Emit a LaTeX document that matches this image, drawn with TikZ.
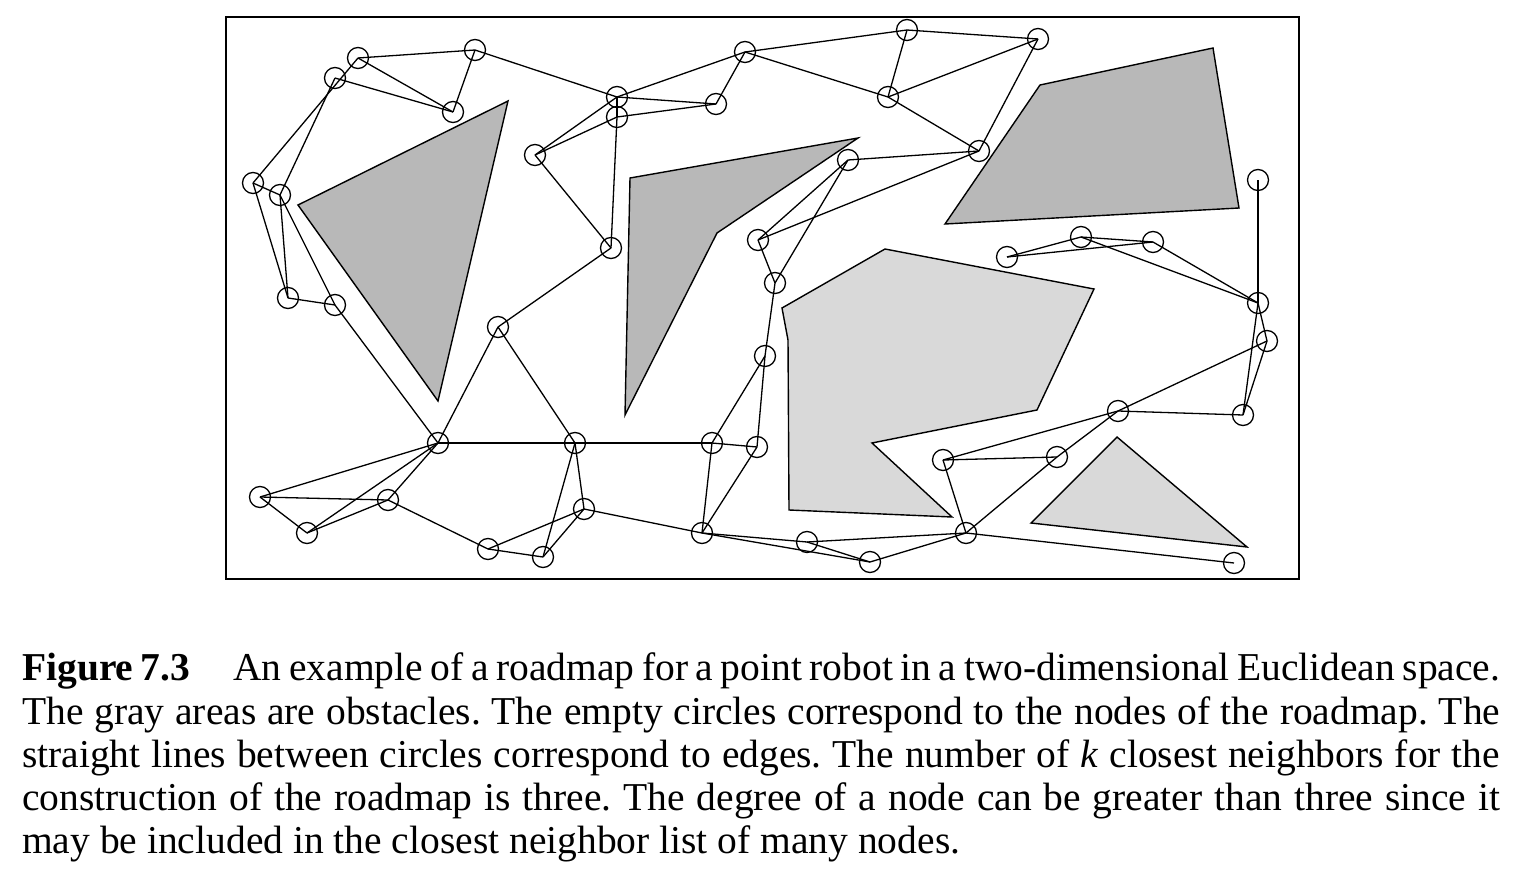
\documentclass[tikz,border=0pt]{standalone}
\usepackage{fontspec}
\setmainfont{Liberation Serif}
\begin{document}
\frenchspacing
\begin{tikzpicture}[x=1pt,y=-1pt,
  rnode/.style={circle,draw=black,line width=1.3pt,minimum size=21pt,inner sep=0pt},
  edge/.style={line width=1.3pt},
  obsdark/.style={fill=black!28,draw=black,line width=1.4pt,line join=miter},
  obslight/.style={fill=black!15,draw=black,line width=1.4pt,line join=miter},
  captext/.style={anchor=base west,inner sep=0pt,font=\fontsize{39.5}{44}\selectfont}]
\useasboundingbox (0,0) rectangle (1529,891);
% frame
\draw[line width=2pt] (225.5,17.5) rectangle (1299,578.5);
% obstacles
\draw[obsdark] (298,205) -- (508,101) -- (438,401) -- cycle;
\draw[obsdark] (630,178) -- (858,138) -- (717,233) -- (625,415) -- cycle;
\draw[obsdark] (1040,85) -- (1213,48) -- (1239,208) -- (945,224) -- cycle;
\draw[obslight] (782,308) -- (885,249) -- (1094,289) -- (1037,410) -- (872,443) -- (952,517) -- (789,510) -- (788,340) -- cycle;
\draw[obslight] (1117,437) -- (1247,547) -- (1031,523) -- cycle;
% nodes
\node[rnode] (n1) at (358,58) {};
\node[rnode] (n2) at (335,78) {};
\node[rnode] (n3) at (475,50) {};
\node[rnode] (n4) at (453,112) {};
\node[rnode] (n5) at (253,183) {};
\node[rnode] (n6) at (280,195) {};
\node[rnode] (n7) at (288,298) {};
\node[rnode] (n8) at (335,305) {};
\node[rnode] (n9) at (617,97) {};
\node[rnode] (n10) at (617,117) {};
\node[rnode] (n11) at (535,155) {};
\node[rnode] (n12) at (611,248) {};
\node[rnode] (n13) at (745,52) {};
\node[rnode] (n14) at (716,104) {};
\node[rnode] (n15) at (907,30) {};
\node[rnode] (n16) at (888,97) {};
\node[rnode] (n17) at (979,151) {};
\node[rnode] (n18) at (848,160) {};
\node[rnode] (n19) at (758,240) {};
\node[rnode] (n20) at (775,283) {};
\node[rnode] (n21) at (1038,39) {};
\node[rnode] (n22) at (1258,180) {};
\node[rnode] (n23) at (1081,237) {};
\node[rnode] (n24) at (1153,242) {};
\node[rnode] (n25) at (1007,257) {};
\node[rnode] (n26) at (1258,303) {};
\node[rnode] (n27) at (498,327) {};
\node[rnode] (n28) at (438,443) {};
\node[rnode] (n29) at (575,443) {};
\node[rnode] (n30) at (260,497) {};
\node[rnode] (n31) at (388,500) {};
\node[rnode] (n32) at (307,533) {};
\node[rnode] (n33) at (488,549) {};
\node[rnode] (n34) at (543,557) {};
\node[rnode] (n35) at (584,509) {};
\node[rnode] (n36) at (765,356) {};
\node[rnode] (n37) at (712,443) {};
\node[rnode] (n38) at (757,447) {};
\node[rnode] (n39) at (702,533) {};
\node[rnode] (n40) at (807,542) {};
\node[rnode] (n41) at (870,562) {};
\node[rnode] (n42) at (966,533) {};
\node[rnode] (n43) at (943,460) {};
\node[rnode] (n44) at (1267,341) {};
\node[rnode] (n45) at (1118,411) {};
\node[rnode] (n46) at (1243,415) {};
\node[rnode] (n47) at (1057,457) {};
\node[rnode] (n48) at (1234,563) {};
% edges
\foreach \a/\b in {n1/n3,n1/n4,n2/n4,n3/n4,n5/n1,n6/n2,n3/n9,n5/n6,n5/n7,n6/n7,n6/n8,n8/n28,n7/n8,
  n11/n9,n11/n10,n11/n12,n9/n10,n10/n12,n12/n27,
  n9/n13,n9/n14,n10/n14,n13/n14,n13/n15,n13/n16,n15/n16,n15/n21,n16/n21,n16/n17,n17/n21,
  n18/n17,n19/n17,n19/n18,n20/n18,n19/n20,n20/n36,n36/n38,n36/n37,
  n23/n24,n25/n23,n25/n24,n23/n26,n24/n26,n22/n26,
  n26/n44,n26/n46,n44/n46,n44/n45,n45/n46,n45/n43,n45/n47,n47/n42,n43/n47,n43/n42,n42/n48,
  n39/n40,n39/n41,n40/n42,n40/n41,n41/n42,
  n37/n38,n37/n39,n38/n39,n37/n29,n35/n39,
  n28/n27,n27/n29,n28/n29,n28/n30,n28/n32,n28/n31,n30/n31,n30/n32,n32/n31,n31/n33,n33/n34,n33/n35,n29/n34,n29/n35,n34/n35}
  \draw[edge] (\a.center) -- (\b.center);
% caption
\node[captext] (c1) at (22,680) {\makebox[1478pt][s]{\textbf{Figure 7.3}\hspace{0.9em} An example of a roadmap for a point robot in a two-dimensional Euclidean space.}};
\node[captext] (c2) at (22,724) {\makebox[1478pt][s]{The gray areas are obstacles. The empty circles correspond to the nodes of the roadmap. The}};
\node[captext] (c3) at (22,767) {\makebox[1478pt][s]{straight lines between circles correspond to edges. The number of \textit{k} closest neighbors for the}};
\node[captext] (c4) at (22,810) {\makebox[1478pt][s]{construction of the roadmap is three. The degree of a node can be greater than three since it}};
\node[captext] (c5) at (22,853) {may be included in the closest neighbor list of many nodes.};
\end{tikzpicture}
\end{document}
